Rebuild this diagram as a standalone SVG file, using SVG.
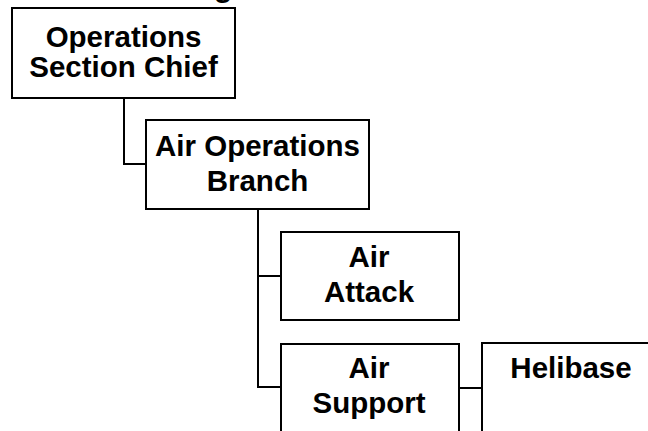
<svg xmlns="http://www.w3.org/2000/svg" width="648" height="431" viewBox="0 0 648 431">
  <style>
    .box { fill: #ffffff; stroke: #000000; stroke-width: 2; }
    .lbl { font-family: "Liberation Sans", Arial, sans-serif; font-weight: bold; font-size: 29.5px; fill: #000000; text-anchor: middle; }
    .title { font-family: "Liberation Sans", Arial, sans-serif; font-weight: bold; font-size: 30px; fill: #000000; }
    .conn { fill: none; stroke: #000000; stroke-width: 2; }
  </style>
  <rect x="0" y="0" width="648" height="431" fill="#ffffff"/>

  <!-- title (runs off the top edge) -->
  <text class="title" x="214" y="-3">g</text>

  <!-- connectors -->
  <g id="connectors">
    <polyline class="conn" points="124,98 124,164 146,164"/>
    <polyline class="conn" points="258,209 258,387 281,387"/>
    <line class="conn" x1="258" y1="276" x2="281" y2="276"/>
    <line class="conn" x1="459" y1="388" x2="482" y2="388"/>
  </g>

  <g id="ops-chief">
    <rect class="box" x="12" y="8" width="223" height="90"/>
    <text class="lbl" x="123.5" y="47">Operations</text>
    <text class="lbl" x="123.5" y="77">Section Chief</text>
  </g>

  <g id="air-ops-branch">
    <rect class="box" x="146" y="120" width="223" height="89"/>
    <text class="lbl" x="257.5" y="156">Air Operations</text>
    <text class="lbl" x="257.5" y="191">Branch</text>
  </g>

  <g id="air-attack">
    <rect class="box" x="281" y="232" width="178" height="88"/>
    <text class="lbl" x="369" y="267">Air</text>
    <text class="lbl" x="369" y="302">Attack</text>
  </g>

  <g id="air-support">
    <rect class="box" x="281" y="344" width="178" height="100"/>
    <text class="lbl" x="369" y="378">Air</text>
    <text class="lbl" x="369" y="413">Support</text>
  </g>

  <g id="helibase">
    <rect class="box" x="482" y="343" width="178" height="100"/>
    <text class="lbl" x="571" y="378">Helibase</text>
  </g>
</svg>
